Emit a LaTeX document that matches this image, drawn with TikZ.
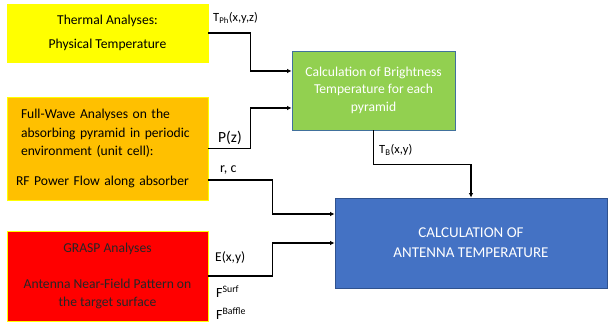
\documentclass[tikz,border=0pt]{standalone}
\usepackage{fontspec}
\setmainfont{Carlito}
\usetikzlibrary{arrows.meta,positioning}

\definecolor{thermalyellow}{HTML}{FFFF00}
\definecolor{waveorange}{HTML}{FFC000}
\definecolor{graspred}{HTML}{FF0000}
\definecolor{brightgreen}{HTML}{92D050}
\definecolor{greenedge}{HTML}{41719C}
\definecolor{antblue}{HTML}{4472C4}
\definecolor{antedge}{HTML}{2F528F}

\begin{document}
\begin{tikzpicture}[
    x=1pt, y=1pt,
    every node/.style={font=\fontsize{13.6}{18.5}\selectfont},
    inbox/.style={draw=thermalyellow, line width=0.8pt, minimum width=201pt, inner sep=0pt},
    calcbox/.style={draw, line width=0.8pt, align=center, text=white, inner sep=0pt},
    varlabel/.style={anchor=west, inner sep=0pt, font=\fontsize{14}{16}\selectfont},
    flow/.style={-{Latex[length=4.5pt,width=4.5pt]}, line width=1.1pt}
]
\useasboundingbox (0,0) rectangle (608,324);
% input boxes on the left
\node[inbox, fill=thermalyellow, minimum height=58pt, align=center] (thermal) at (107.5,291)
    {Thermal Analyses:\\[6pt]Physical Temperature};
\node[inbox, fill=waveorange, minimum height=103pt, align=left, text width=173pt] (fullwave) at (107.5,175.5)
    {Full-Wave Analyses on the\\absorbing pyramid in periodic\\environment (unit cell):\\[11pt]\hspace*{-5pt}RF Power Flow along absorber};
\node[inbox, fill=graspred, minimum height=90pt, align=center, text=black!85] (grasp) at (107.5,48)
    {\raisebox{-2pt}{GRASP Analyses}\\[19pt]Antenna Near-Field Pattern on\\the target surface};
% calculation boxes
\node[calcbox, draw=greenedge, fill=brightgreen, minimum width=163pt, minimum height=79pt] (bright) at (373.5,233.5)
    {\raisebox{-2pt}{Calculation of Brightness}\\Temperature for each\\pyramid};
\node[calcbox, draw=antedge, fill=antblue, minimum width=272pt, minimum height=90pt, font=\fontsize{15}{20}\selectfont] (antenna) at (471,81)
    {CALCULATION OF\\ANTENNA TEMPERATURE};
% connectors
\draw[flow] (thermal.east) -- ++(42,0) |- ([yshift=19.5pt]bright.west);
\draw[flow] (fullwave.east) -- ++(42,0) |- ([yshift=-17.5pt]bright.west);
\draw[flow] ([yshift=-31.5pt]fullwave.east) -- ++(64,0) |- ([yshift=29pt]antenna.west);
\draw[flow] (grasp.east) -- ++(64,0) |- (antenna.west);
\draw[flow] (bright.south) -- ++(0,-34) -| (antenna.north);
% quantity labels
\node[varlabel, font=\fontsize{12.5}{14}\selectfont] (tph) at (213,306) {T\textsubscript{Ph}(x,y,z)};
\node[varlabel, font=\fontsize{15.5}{16}\selectfont] (pz) at (218,186) {P(z)};
\node[varlabel] (rc) at (220,154) {r, c};
\node[varlabel, font=\fontsize{13.5}{14}\selectfont] (exy) at (215,66) {E(x,y)};
\node[varlabel] (fsurf) at (216,32) {F\textsuperscript{Surf}};
\node[varlabel] (fbaffle) at (216,10) {F\textsuperscript{Baffle}};
\node[varlabel, font=\fontsize{12.5}{14}\selectfont] (tb) at (379,174) {T\textsubscript{B}(x,y)};
\end{tikzpicture}
\end{document}
